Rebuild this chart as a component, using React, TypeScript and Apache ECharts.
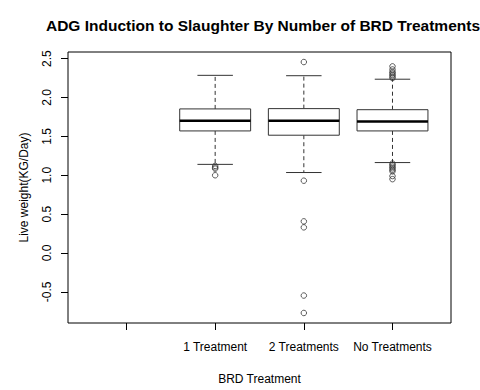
import React, { useEffect, useRef } from "react";
import * as echarts from "echarts";

const categories = ["", "1 Treatment", "2 Treatments", "No Treatments"];
const lowerWhisker = [null, 1.14, 1.035, 1.163];
const q1 = [null, 1.57, 1.515, 1.57];
const median = [null, 1.7, 1.7, 1.692];
const q3 = [null, 1.853, 1.857, 1.843];
const upperWhisker = [null, 2.285, 2.28, 2.235];
const outliers1Treatment = [1.12, 1.1, 1.085, 1.0];
const outliers2Treatments = [2.456, 0.93, 0.407, 0.33, -0.547, -0.771];
const outliersNoTreatments = [2.4, 2.36, 2.33, 2.31, 2.29, 2.27, 2.25, 1.15, 1.13, 1.11, 1.09, 1.07, 1.05, 0.99, 0.95];
const yTicks = [-0.5, 0, 0.5, 1, 1.5, 2, 2.5];
const xTicks = [1, 2, 3, 4];

const FONT = "Liberation Sans, Arial, sans-serif";

export default function App() {
  const ref = useRef<HTMLDivElement>(null);
  useEffect(() => {
    if (!ref.current) return;
    const chart = echarts.init(ref.current, null, { renderer: "svg" });
    const boxData: any[] = [];
    categories.forEach((_, i) => {
      if (median[i] != null) {
        boxData.push([i + 1, lowerWhisker[i], q1[i], median[i], q3[i], upperWhisker[i]]);
      }
    });
    const outlierData: number[][] = [];
    outliers1Treatment.forEach((v) => outlierData.push([2, v]));
    outliers2Treatments.forEach((v) => outlierData.push([3, v]));
    outliersNoTreatments.forEach((v) => outlierData.push([4, v]));

    const lineColor = "#333";
    chart.setOption({
      animation: false,
      backgroundColor: "#fff",
      title: {
        text: "ADG Induction to Slaughter By Number of BRD Treatments",
        left: 258,
        top: 12,
        textAlign: "center",
        textStyle: { fontFamily: FONT, fontSize: 15.5, fontWeight: "bold", color: "#000" },
      },
      grid: {
        left: 68,
        right: 29,
        top: 52,
        bottom: 64,
        show: true,
        borderColor: "#000",
        borderWidth: 1,
        backgroundColor: "transparent",
      },
      xAxis: {
        type: "value",
        min: 0.34,
        max: 4.66,
        name: "BRD Treatment",
        nameLocation: "middle",
        nameGap: 50,
        nameTextStyle: { fontFamily: FONT, fontSize: 12, color: "#000" },
        axisLine: { show: false, onZero: false },
        splitLine: { show: false },
        axisTick: { show: true, length: 7, customValues: xTicks, lineStyle: { color: "#000" } },
        axisLabel: {
          customValues: xTicks,
          margin: 18,
          fontFamily: FONT,
          fontSize: 12,
          color: "#000",
          formatter: (v: number) => categories[Math.round(v) - 1] ?? "",
        },
      },
      yAxis: {
        type: "value",
        min: -0.9,
        max: 2.585,
        name: "Live weight(KG/Day)",
        nameLocation: "middle",
        nameRotate: 90,
        nameGap: 38,
        nameTextStyle: { fontFamily: FONT, fontSize: 12, color: "#000" },
        axisLine: { show: false, onZero: false },
        splitLine: { show: false },
        axisTick: { show: true, length: 7, customValues: yTicks, lineStyle: { color: "#000" } },
        axisLabel: {
          customValues: yTicks,
          rotate: 90,
          margin: 15,
          fontFamily: FONT,
          fontSize: 12,
          color: "#000",
          formatter: (v: number) => v.toFixed(1),
        },
      },
      series: [
        {
          type: "custom",
          data: boxData,
          encode: { x: 0, y: [1, 2, 3, 4, 5] },
          renderItem: (params: any, api: any) => {
            const x = api.value(0);
            const pLw = api.coord([x, api.value(1)]);
            const pQ1 = api.coord([x, api.value(2)]);
            const pMed = api.coord([x, api.value(3)]);
            const pQ3 = api.coord([x, api.value(4)]);
            const pUw = api.coord([x, api.value(5)]);
            const w = api.size([0.8, 0])[0];
            const cx = pMed[0];
            const half = w / 2;
            const capHalf = w / 4;
            return {
              type: "group",
              children: [
                { type: "line", shape: { x1: cx, y1: pQ3[1], x2: cx, y2: pUw[1] }, style: { stroke: lineColor, lineWidth: 1, lineDash: [4, 3] } },
                { type: "line", shape: { x1: cx, y1: pQ1[1], x2: cx, y2: pLw[1] }, style: { stroke: lineColor, lineWidth: 1, lineDash: [4, 3] } },
                { type: "line", shape: { x1: cx - capHalf, y1: pUw[1], x2: cx + capHalf, y2: pUw[1] }, style: { stroke: lineColor, lineWidth: 1 } },
                { type: "line", shape: { x1: cx - capHalf, y1: pLw[1], x2: cx + capHalf, y2: pLw[1] }, style: { stroke: lineColor, lineWidth: 1 } },
                { type: "rect", shape: { x: cx - half, y: pQ3[1], width: w, height: pQ1[1] - pQ3[1] }, style: { fill: "#fff", stroke: lineColor, lineWidth: 1 } },
                { type: "line", shape: { x1: cx - half, y1: pMed[1], x2: cx + half, y2: pMed[1] }, style: { stroke: "#000", lineWidth: 2.5 } },
              ],
            };
          },
        },
        {
          type: "scatter",
          data: outlierData,
          symbol: "circle",
          symbolSize: 5.5,
          itemStyle: { color: "transparent", borderColor: "#333", borderWidth: 1 },
        },
      ],
    });
    return () => chart.dispose();
  }, []);
  return <div ref={ref} style={{ position: "fixed", left: 0, top: 0, width: 480, height: 390 }} />;
}
